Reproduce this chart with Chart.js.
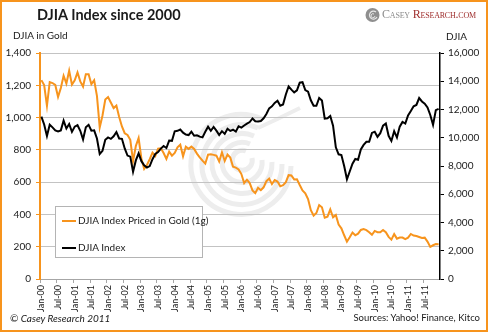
<!DOCTYPE html>
<html>
<head>
<meta charset="utf-8">
<script src="https://cdn.jsdelivr.net/npm/chart.js@4.4.1/dist/chart.umd.min.js"></script>
<style>
body{margin:0;background:#fff;}
#wrap{position:relative;width:488px;height:332px;overflow:hidden;font-family:Lato,"Open Sans",sans-serif;color:#1a1a1a;}
#frame{position:absolute;left:0;top:0;width:488px;height:332px;box-sizing:border-box;border:2px solid #f7941d;pointer-events:none;}
#mark{position:absolute;left:0;top:0;}
canvas{position:absolute;left:0;top:0;}
.t{position:absolute;white-space:nowrap;}
#title{left:37px;top:6px;font-size:14.5px;font-weight:bold;}
#ytl{left:13px;top:29px;font-size:10px;}
#ytr{left:446px;top:30px;font-size:10px;}
#foot1{left:10px;top:312px;font-size:10px;font-style:italic;}
#foot2{right:8px;top:312px;font-size:9.5px;}
#logo{left:382px;top:7px;font-family:"Liberation Serif",serif;font-variant:small-caps;font-size:12px;letter-spacing:-0.2px;}
#logo .a{color:#8c8c8c;}
#logo .b{color:#a0302f;}
#legend{position:absolute;left:55px;top:206px;width:146px;height:50px;background:#fff;border:1px solid #b4b4b4;font-size:10px;}
#legend .row{position:absolute;left:6px;height:12px;}
#legend .sw{position:absolute;left:0;top:5px;width:14px;height:2px;}
#legend .lb{position:absolute;left:16px;top:-1px;white-space:nowrap;}
</style>
</head>
<body>
<div id="wrap">
<svg id="mark" width="488" height="332">
  <g fill="none" stroke="#ededed" stroke-width="5">
    <path d="M 252 158 A 10 10 0 1 1 246 151"/>
    <path d="M 262 160 A 20 20 0 1 1 250 144"/>
    <path d="M 272 162 A 30 30 0 1 1 254 136"/>
    <path d="M 282 164 A 40 40 0 1 1 258 128"/>
    <path d="M 291 166 A 50 50 0 1 1 262 119"/>
  </g>
  <path d="M 258 128 Q 280 118 300 108" fill="none" stroke="#ededed" stroke-width="4"/>
  <g>
    <circle cx="372.5" cy="15" r="7" fill="#8f8f8f"/>
    <path d="M 376 12 A 4 4 0 1 0 377 17" fill="none" stroke="#e6e6e6" stroke-width="1.2"/>
    <path d="M 374 14 A 2 2 0 1 0 375 16" fill="none" stroke="#e6e6e6" stroke-width="1"/>
  </g>
</svg>
<canvas id="chart" width="488" height="332"></canvas>
<div class="t" id="title">DJIA Index since 2000</div>
<div class="t" id="logo"><span class="a">Casey </span><span class="b">Research.com</span></div>
<div class="t" id="ytl">DJIA in Gold</div>
<div class="t" id="ytr">DJIA</div>
<div class="t" id="foot1">© Casey Research 2011</div>
<div class="t" id="foot2">Sources: Yahoo! Finance, Kitco</div>
<div id="legend">
  <div class="row" style="top:8px"><div class="sw" style="background:#f7941d"></div><div class="lb">DJIA Index Priced in Gold (1g)</div></div>
  <div class="row" style="top:35px"><div class="sw" style="background:#000"></div><div class="lb">DJIA Index</div></div>
</div>
<div id="frame"></div>
</div>
<script>
// monthly points, Jan 2000 - Dec 2011
const years = ['00','01','02','03','04','05','06','07','08','09','10','11'];
const monthNames = ['Jan','Feb','Mar','Apr','May','Jun','Jul','Aug','Sep','Oct','Nov','Dec'];
const tickLabels = ['Jan-00','Jul-00','Jan-01','Jul-01','Jan-02','Jul-02','Jan-03','Jul-03',
  'Jan-04','Jul-04','Jan-05','Jul-05','Jan-06','Jul-06','Jan-07','Jul-07',
  'Jan-08','Jul-08','Jan-09','Jul-09','Jan-10','Jul-10','Jan-11','Jul-11'];

// DJIA priced in grams of gold (left axis)
const djiaGold = [
  1232, 1201, 1073, 1220, 1214, 1202, 1128, 1183, 1259, 1211, 1290, 1204,
  1231, 1280, 1224, 1192, 1269, 1269, 1207, 1231, 1134, 939, 1013, 1112,
  1127, 1093, 1059, 1074, 1004, 945, 903, 892, 862, 730, 824, 873,
  747, 682, 706, 742, 783, 762, 808, 810, 780, 744, 789, 764,
  781, 816, 832, 760, 819, 806, 820, 806, 777, 754, 733, 715,
  770, 773, 769, 764, 728, 785, 731, 771, 752, 695, 690, 678,
  650, 594, 615, 594, 549, 532, 565, 550, 568, 606, 622, 588,
  613, 604, 574, 581, 600, 643, 641, 617, 618, 582, 549, 531,
  495, 426, 393, 409, 458, 444, 380, 386, 431, 382, 397, 337,
  314, 271, 231, 258, 288, 271, 281, 304, 309, 303, 290, 274,
  298, 290, 289, 303, 290, 261, 244, 278, 250, 257, 257, 247,
  256, 279, 269, 266, 260, 254, 256, 232, 199, 209, 216, 215
];

// DJIA index (right axis)
const djia = [
  11497, 10940, 10128, 10922, 10734, 10522, 10448, 10522, 11215, 10651, 10971, 10415,
  10787, 10887, 10495, 9879, 10735, 10912, 10502, 10523, 9950, 8848, 9075, 9852,
  10021, 9920, 10106, 10404, 9946, 9925, 9243, 8737, 8664, 7592, 8397, 8896,
  8342, 8054, 7891, 7992, 8480, 8850, 8985, 9234, 9416, 9275, 9801, 9782,
  10454, 10488, 10584, 10358, 10226, 10188, 10435, 10140, 10174, 10080, 10027, 10428,
  10783, 10490, 10766, 10504, 10193, 10467, 10275, 10641, 10482, 10569, 10440, 10806,
  10718, 10865, 10993, 11109, 11367, 11168, 11150, 11186, 11381, 11679, 12081, 12222,
  12463, 12622, 12268, 12354, 13063, 13628, 13409, 13212, 13358, 13896, 13930, 13372,
  13265, 12650, 12266, 12263, 12820, 12638, 11350, 11378, 11544, 10851, 9325, 8829,
  8776, 8001, 7063, 7609, 8168, 8500, 8447, 9172, 9496, 9712, 9713, 10344,
  10428, 10067, 10325, 10857, 11009, 10137, 9774, 10466, 10015, 10788, 11118, 11006,
  11578, 11892, 12226, 12320, 12811, 12570, 12414, 12143, 11614, 10913, 11955, 12046
];

const categories = [];
years.forEach(y => monthNames.forEach(m => categories.push(m + '-' + y)));

const orange = '#f7941d';
const fontFam = 'Lato, "Open Sans", sans-serif';
const textCol = '#1a1a1a';

const canvas = document.querySelector('#chart');
new Chart(canvas, {
	type: 'line',
	data: {
		labels: categories,
		datasets: [
			{
				label: 'DJIA Index',
				data: djia,
				yAxisID: 'yRight',
				borderColor: '#000',
				borderWidth: 2,
				pointRadius: 0,
				tension: 0,
				order: 0,
			},
			{
				label: 'DJIA Index Priced in Gold (1g)',
				data: djiaGold,
				yAxisID: 'yLeft',
				borderColor: orange,
				borderWidth: 2,
				pointRadius: 0,
				tension: 0,
				order: 1,
			},
		],
	},
	options: {
		responsive: false,
		animation: false,
		layout: {padding: {top: 53, left: 0, right: 0, bottom: 0}},
		plugins: {
			legend: {display: false},
			tooltip: {enabled: false},
		},
		scales: {
			x: {
				offset: true,
				grid: {
					offset: true,
					drawOnChartArea: false,
					tickLength: 4,
					tickColor: (c) => (c.index % 6 === 0 ? '#a6a6a6' : 'rgba(0,0,0,0)'),
				},
				border: {color: '#a6a6a6', width: 1},
				ticks: {
					autoSkip: false,
					maxRotation: 90,
					minRotation: 90,
					padding: 2,
					color: textCol,
					font: {family: fontFam, size: 9},
					callback: (v, i) => (i % 6 === 0 ? tickLabels[i / 6] : ''),
				},
				afterFit: (s) => { s.height = 53; },
			},
			yLeft: {
				position: 'left',
				min: 0,
				max: 1400,
				ticks: {stepSize: 200, padding: 5, color: textCol, font: {family: fontFam, size: 10}},
				grid: {color: '#c3c3c3', lineWidth: 1, tickColor: orange, tickLength: 4},
				border: {color: orange, width: 2},
				afterFit: (s) => { s.width = 40; },
			},
			yRight: {
				position: 'right',
				min: 0,
				max: 16000,
				ticks: {stepSize: 2000, padding: 4, color: textCol, font: {family: fontFam, size: 10}},
				grid: {drawOnChartArea: false, tickColor: '#000', tickLength: 4},
				border: {color: '#000', width: 1.5},
				afterFit: (s) => { s.width = 48; },
			},
		},
	},
});
</script>
</body>
</html>
